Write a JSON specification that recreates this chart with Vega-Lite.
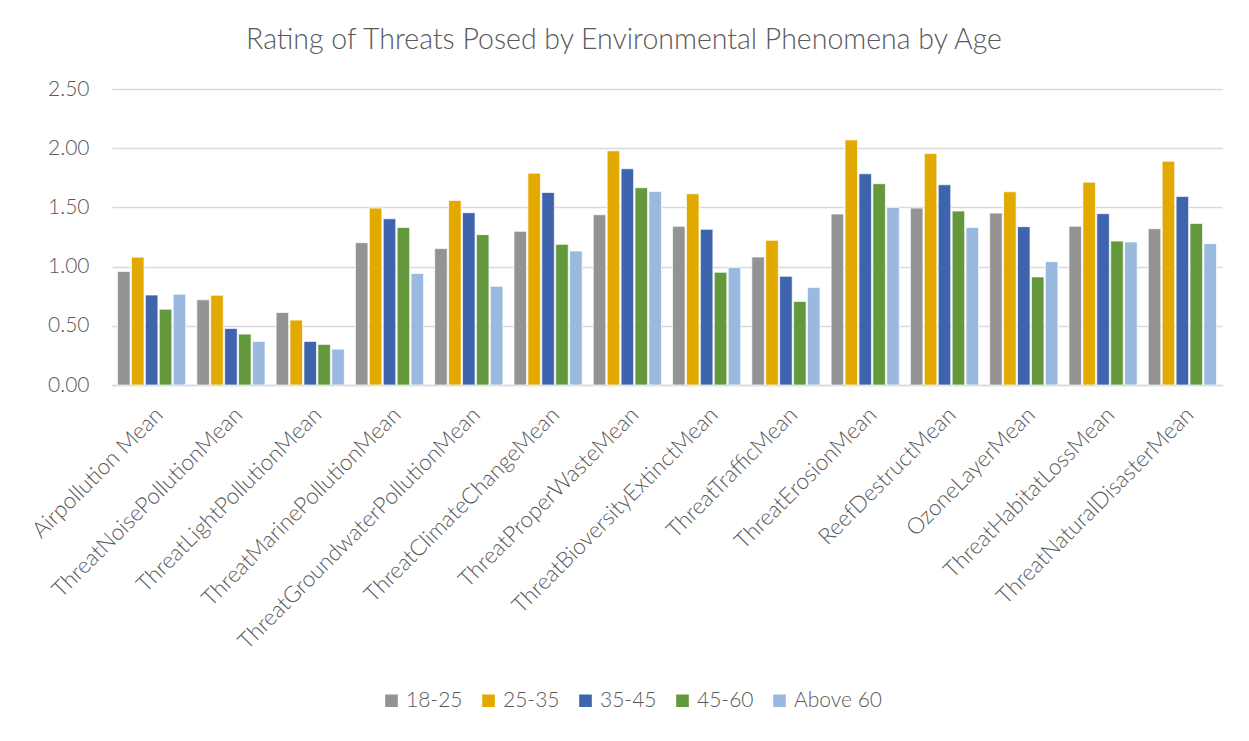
{
  "$schema": "https://vega.github.io/schema/vega-lite/v6.json",
  "width": 1110,
  "height": 296,
  "autosize": {"type": "none"},
  "padding": {"left": 112, "top": 89, "right": 27, "bottom": 356},
  "background": "white",
  "title": {"text": "Rating of Threats Posed by Environmental Phenomena by Age", "fontSize": 28.5, "font": "Lato", "fontWeight": 300, "color": "#595959", "offset": 24, "frame": "group", "anchor": "middle", "dx": -43},
  "data": {"values": [
    {"item": "Airpollution Mean", "age": "18-25", "v": 0.958},
    {"item": "Airpollution Mean", "age": "25-35", "v": 1.08},
    {"item": "Airpollution Mean", "age": "35-45", "v": 0.76},
    {"item": "Airpollution Mean", "age": "45-60", "v": 0.64},
    {"item": "Airpollution Mean", "age": "Above 60", "v": 0.767},
    {"item": "ThreatNoisePollutionMean", "age": "18-25", "v": 0.72},
    {"item": "ThreatNoisePollutionMean", "age": "25-35", "v": 0.758},
    {"item": "ThreatNoisePollutionMean", "age": "35-45", "v": 0.478},
    {"item": "ThreatNoisePollutionMean", "age": "45-60", "v": 0.43},
    {"item": "ThreatNoisePollutionMean", "age": "Above 60", "v": 0.368},
    {"item": "ThreatLightPollutionMean", "age": "18-25", "v": 0.612},
    {"item": "ThreatLightPollutionMean", "age": "25-35", "v": 0.548},
    {"item": "ThreatLightPollutionMean", "age": "35-45", "v": 0.368},
    {"item": "ThreatLightPollutionMean", "age": "45-60", "v": 0.343},
    {"item": "ThreatLightPollutionMean", "age": "Above 60", "v": 0.303},
    {"item": "ThreatMarinePollutionMean", "age": "18-25", "v": 1.202},
    {"item": "ThreatMarinePollutionMean", "age": "25-35", "v": 1.494},
    {"item": "ThreatMarinePollutionMean", "age": "35-45", "v": 1.404},
    {"item": "ThreatMarinePollutionMean", "age": "45-60", "v": 1.331},
    {"item": "ThreatMarinePollutionMean", "age": "Above 60", "v": 0.941},
    {"item": "ThreatGroundwaterPollutionMean", "age": "18-25", "v": 1.152},
    {"item": "ThreatGroundwaterPollutionMean", "age": "25-35", "v": 1.559},
    {"item": "ThreatGroundwaterPollutionMean", "age": "35-45", "v": 1.455},
    {"item": "ThreatGroundwaterPollutionMean", "age": "45-60", "v": 1.27},
    {"item": "ThreatGroundwaterPollutionMean", "age": "Above 60", "v": 0.834},
    {"item": "ThreatClimateChangeMean", "age": "18-25", "v": 1.298},
    {"item": "ThreatClimateChangeMean", "age": "25-35", "v": 1.789},
    {"item": "ThreatClimateChangeMean", "age": "35-45", "v": 1.626},
    {"item": "ThreatClimateChangeMean", "age": "45-60", "v": 1.188},
    {"item": "ThreatClimateChangeMean", "age": "Above 60", "v": 1.132},
    {"item": "ThreatProperWasteMean", "age": "18-25", "v": 1.438},
    {"item": "ThreatProperWasteMean", "age": "25-35", "v": 1.978},
    {"item": "ThreatProperWasteMean", "age": "35-45", "v": 1.826},
    {"item": "ThreatProperWasteMean", "age": "45-60", "v": 1.666},
    {"item": "ThreatProperWasteMean", "age": "Above 60", "v": 1.635},
    {"item": "ThreatBioversityExtinctMean", "age": "18-25", "v": 1.34},
    {"item": "ThreatBioversityExtinctMean", "age": "25-35", "v": 1.615},
    {"item": "ThreatBioversityExtinctMean", "age": "35-45", "v": 1.315},
    {"item": "ThreatBioversityExtinctMean", "age": "45-60", "v": 0.952},
    {"item": "ThreatBioversityExtinctMean", "age": "Above 60", "v": 0.992},
    {"item": "ThreatTrafficMean", "age": "18-25", "v": 1.081},
    {"item": "ThreatTrafficMean", "age": "25-35", "v": 1.222},
    {"item": "ThreatTrafficMean", "age": "35-45", "v": 0.918},
    {"item": "ThreatTrafficMean", "age": "45-60", "v": 0.705},
    {"item": "ThreatTrafficMean", "age": "Above 60", "v": 0.823},
    {"item": "ThreatErosionMean", "age": "18-25", "v": 1.444},
    {"item": "ThreatErosionMean", "age": "25-35", "v": 2.07},
    {"item": "ThreatErosionMean", "age": "35-45", "v": 1.784},
    {"item": "ThreatErosionMean", "age": "45-60", "v": 1.7},
    {"item": "ThreatErosionMean", "age": "Above 60", "v": 1.5},
    {"item": "ReefDestructMean", "age": "18-25", "v": 1.494},
    {"item": "ReefDestructMean", "age": "25-35", "v": 1.955},
    {"item": "ReefDestructMean", "age": "35-45", "v": 1.691},
    {"item": "ReefDestructMean", "age": "45-60", "v": 1.469},
    {"item": "ReefDestructMean", "age": "Above 60", "v": 1.331},
    {"item": "OzoneLayerMean", "age": "18-25", "v": 1.452},
    {"item": "OzoneLayerMean", "age": "25-35", "v": 1.632},
    {"item": "OzoneLayerMean", "age": "35-45", "v": 1.337},
    {"item": "OzoneLayerMean", "age": "45-60", "v": 0.913},
    {"item": "OzoneLayerMean", "age": "Above 60", "v": 1.042},
    {"item": "ThreatHabitatLossMean", "age": "18-25", "v": 1.34},
    {"item": "ThreatHabitatLossMean", "age": "25-35", "v": 1.713},
    {"item": "ThreatHabitatLossMean", "age": "35-45", "v": 1.447},
    {"item": "ThreatHabitatLossMean", "age": "45-60", "v": 1.216},
    {"item": "ThreatHabitatLossMean", "age": "Above 60", "v": 1.208},
    {"item": "ThreatNaturalDisasterMean", "age": "18-25", "v": 1.32},
    {"item": "ThreatNaturalDisasterMean", "age": "25-35", "v": 1.89},
    {"item": "ThreatNaturalDisasterMean", "age": "35-45", "v": 1.593},
    {"item": "ThreatNaturalDisasterMean", "age": "45-60", "v": 1.365},
    {"item": "ThreatNaturalDisasterMean", "age": "Above 60", "v": 1.194}
  ]},
  "mark": {"type": "bar", "stroke": "white", "strokeWidth": 0.7},
  "encoding": {
    "x": {"field": "item", "type": "nominal", "sort": null,
      "scale": {"paddingInner": 0.14, "paddingOuter": 0.07},
      "axis": {"title": null, "labelAngle": -45, "labelFontSize": 22.5, "labelFont": "Lato", "labelFontWeight": 300, "labelColor": "#595959", "ticks": false, "domainColor": "#d9d9d9", "domainWidth": 1.5, "labelPadding": 18, "labelLimit": 500}},
    "xOffset": {"field": "age", "type": "nominal", "scale": {"paddingInner": 0.1}},
    "y": {"field": "v", "type": "quantitative",
      "scale": {"domain": [0, 2.5]},
      "axis": {"title": null, "values": [0, 0.5, 1, 1.5, 2, 2.5], "format": ".2f", "labelFontSize": 21, "labelFont": "Lato", "labelFontWeight": 300, "labelColor": "#595959", "ticks": false, "domain": false, "gridColor": "#d9d9d9", "gridWidth": 1.5, "labelPadding": 23}},
    "color": {"field": "age", "type": "nominal",
      "scale": {"domain": ["18-25", "25-35", "35-45", "45-60", "Above 60"], "range": ["#939393", "#E2A900", "#3D64AD", "#64983D", "#99B9DF"]},
      "legend": {"title": null, "orient": "none", "legendX": 269, "legendY": 601, "direction": "horizontal", "symbolType": "square", "symbolSize": 200, "labelFontSize": 21, "labelFont": "Lato", "labelFontWeight": 300, "labelColor": "#595959", "columnPadding": 15}}
  },
  "config": {"view": {"stroke": null}}
}
